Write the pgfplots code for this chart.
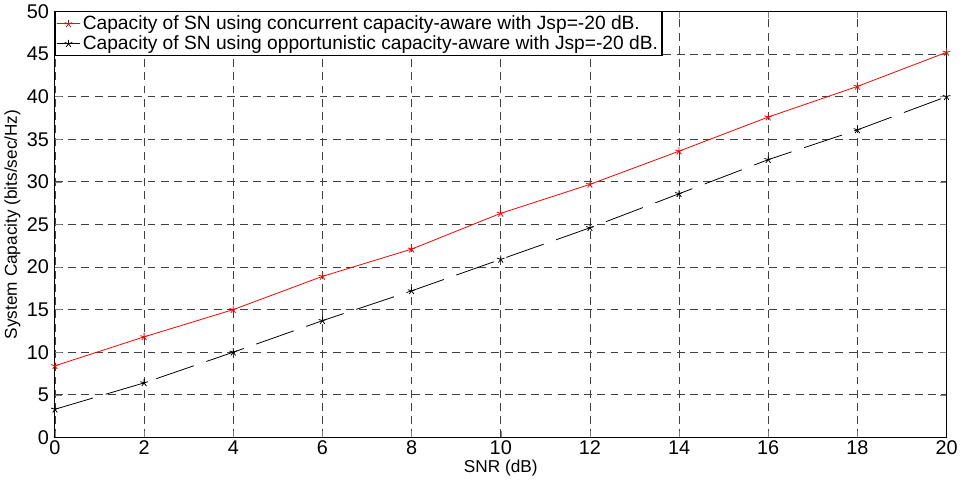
\documentclass[border=0pt]{standalone}
\usepackage{fontspec}
\setmainfont{Liberation Sans}
\usepackage{pgfplots}
\pgfplotsset{compat=1.18}

\begin{document}
\begin{tikzpicture}
\begin{axis}[
    scale only axis,
    width=674pt, height=322pt,
    xmin=0, xmax=20, ymin=0, ymax=50,
    xtick={0,2,...,20}, ytick={0,5,...,50},
    tick align=inside, tick pos=both,
    major tick length=5pt,
    grid=major,
    grid style={black!75, dash pattern=on 6pt off 4pt, line width=0.6pt},
    axis line style={black, line width=0.8pt},
    ticklabel style={font=\fontsize{15}{17}\selectfont},
    xticklabel style={yshift=1pt},
    yticklabel style={xshift=-1pt},
    /pgf/number format/assume math mode=true,
    xlabel={SNR (dB)},
    ylabel={System Capacity (bits/sec/Hz)},
    label style={font=\fontsize{13}{15}\selectfont},
    xlabel style={yshift=3pt},
    ylabel style={yshift=-2pt},
    legend cell align=left,
    legend style={font=\fontsize{14.5}{17}\selectfont, draw=black, line width=0.8pt,
        inner sep=1pt, row sep=-1pt, at={(0,1)}, anchor=north west},
    legend image post style={solid},
]
\addplot[red, line width=0.6pt, mark=star, mark size=3pt, mark options={solid}] coordinates {
(0,8.4) (2,11.8) (4,15.0) (6,18.9) (8,22.1) (10,26.3) (12,29.7) (14,33.6) (16,37.6) (18,41.2) (20,45.2)
};
\addlegendentry{Capacity of SN using concurrent capacity-aware with Jsp=-20 dB.}
\addplot[black, line width=0.6pt, dash pattern=on 30pt off 10pt, mark=star, mark size=3pt, mark options={solid}] coordinates {
(0,3.3) (2,6.4) (4,10.0) (6,13.7) (8,17.2) (10,20.9) (12,24.6) (14,28.6) (16,32.6) (18,36.1) (20,40.0)
};
\addlegendentry{Capacity of SN using opportunistic capacity-aware with Jsp=-20 dB.}
\end{axis}
\end{tikzpicture}
\end{document}
